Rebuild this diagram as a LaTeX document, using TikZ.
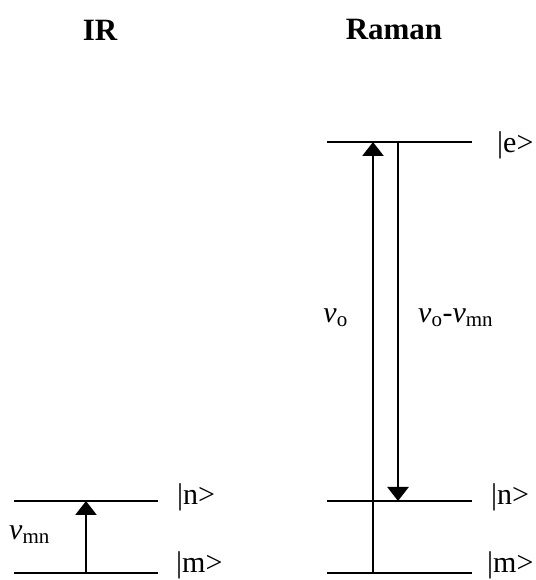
\documentclass[tikz,border=0pt]{standalone}
\usepackage{fontspec}
\setmainfont{Liberation Serif}
\usetikzlibrary{arrows.meta}

\begin{document}
\begin{tikzpicture}[
  x=1pt, y=1pt,
  level/.style={line width=2.6pt},
  trans/.style={line width=2.6pt, -{Triangle[length=14pt,width=21pt]}},
  title/.style={font=\bfseries\fontsize{31}{36}\selectfont, inner sep=0pt},
  state/.style={font=\fontsize{30}{36}\selectfont, anchor=base west, inner sep=0pt},
  freq/.style={font=\fontsize{30}{36}\selectfont, inner sep=0pt}
]
\useasboundingbox (0,0) rectangle (535,580);
% headings
\node[title] (ir) at (100,550) {IR};
\node[title] (raman) at (394,550) {Raman};
% IR levels
\coordinate (irmL) at (14,7);
\coordinate (irmR) at (158,7);
\coordinate (irnL) at (14,79);
\coordinate (irnR) at (158,79);
\draw[level] (irmL) -- (irmR);
\draw[level] (irnL) -- (irnR);
\node[state] (irm) at (176,7) {|m>};
\node[state] (irn) at (177,75) {|n>};
% IR absorption
\coordinate (irup0) at (86,7);
\coordinate (irup1) at (86,79);
\draw[trans] (irup0) -- (irup1);
\node[freq, anchor=base west] (vmn) at (9,40) {\textit{v}\textsubscript{mn}};
% Raman levels
\coordinate (rmL) at (327,7);
\coordinate (rmR) at (472,7);
\coordinate (rnL) at (327,79);
\coordinate (rnR) at (472,79);
\coordinate (reL) at (327,438);
\coordinate (reR) at (472,438);
\draw[level] (rmL) -- (rmR);
\draw[level] (rnL) -- (rnR);
\draw[level] (reL) -- (reR);
\node[state] (rm) at (487,7) {|m>};
\node[state] (rn) at (491,75) {|n>};
\node[state] (re) at (497,427) {|e>};
% Raman scattering
\coordinate (rup0) at (373,7);
\coordinate (rup1) at (373,438);
\coordinate (rdn0) at (398,438);
\coordinate (rdn1) at (398,79);
\draw[trans] (rup0) -- (rup1);
\draw[trans] (rdn0) -- (rdn1);
\node[freq, anchor=base east] (vo) at (348,257) {\textit{v}\textsubscript{o}};
\node[freq, anchor=base west] (vs) at (418,257) {\textit{v}\textsubscript{o}-\textit{v}\textsubscript{mn}};
\end{tikzpicture}
\end{document}
